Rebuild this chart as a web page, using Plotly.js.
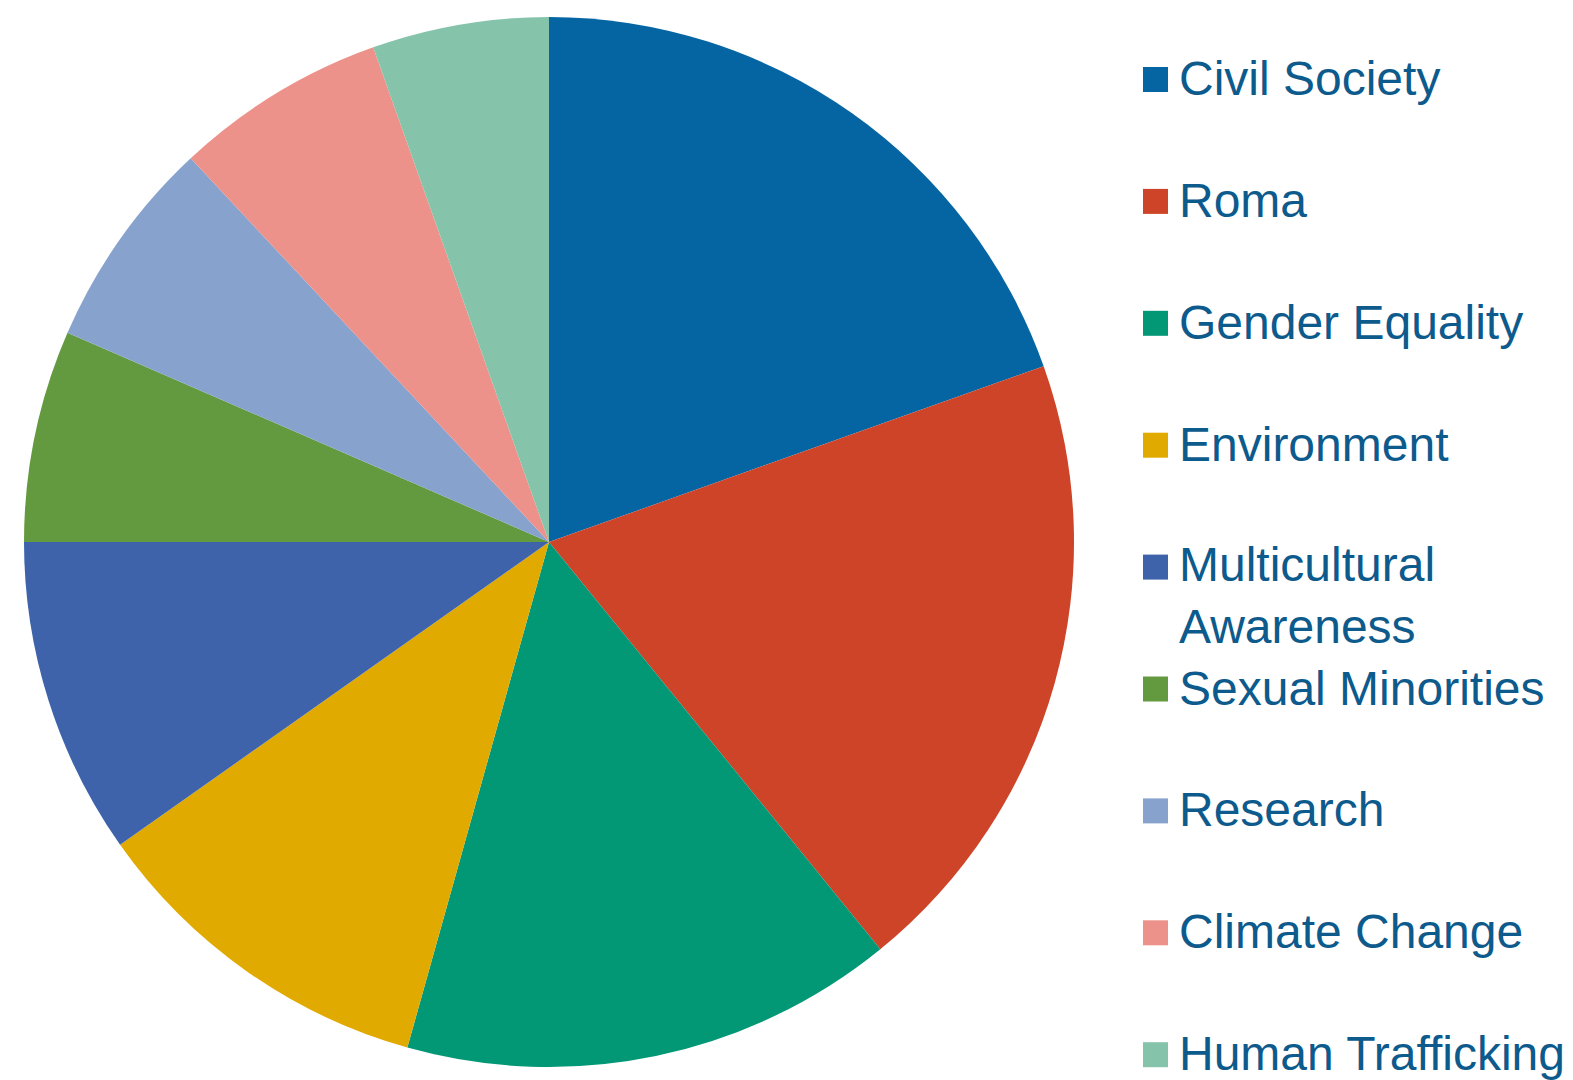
<!DOCTYPE html>
<html>
<head>
<meta charset="utf-8">
<script src="https://cdn.plot.ly/plotly-3.0.1.min.js"></script>
<style>html,body{margin:0;padding:0;background:#fff;}#chart{width:1573px;height:1080px;}</style>
</head>
<body>
<div id="chart"></div>
<script>
const categories = ["Civil Society", "Roma", "Gender Equality", "Environment", "Multicultural<br>Awareness", "Sexual Minorities", "Research", "Climate Change", "Human Trafficking"];
const values = [18, 18, 14, 10, 9, 6, 6, 6, 5];
const colors = ["#0565A3", "#CE4428", "#029775", "#E1AA00", "#3E63AA", "#639A3F", "#87A2CD", "#ED928A", "#85C4AA"];

const W = 1573, H = 1080;
const px = x => x / W;
const py = y => 1 - y / H;

// pie: center (549, 542), radius 525
const cx = 549, cy = 542, r = 525;

const trace = {
  type: "pie",
  labels: categories,
  values: values,
  marker: { colors: colors, line: { width: 0 } },
  sort: false,
  direction: "clockwise",
  rotation: 0,
  textinfo: "none",
  hoverinfo: "label+value+percent",
  domain: { x: [px(cx - r), px(cx + r)], y: [py(cy + r), py(cy - r)] }
};

const shapes = [];
const annotations = [];
const legendTop = 79.5, legendStep = 121.9;
categories.forEach((c, i) => {
  const yc = legendTop + i * legendStep;
  shapes.push({
    type: "rect", xref: "paper", yref: "paper",
    x0: px(1143), x1: px(1168), y0: py(yc - 12.5), y1: py(yc + 12.5),
    fillcolor: colors[i], line: { width: 0 }
  });
  const lines = c.split("<br>").length;
  annotations.push({
    xref: "paper", yref: "paper",
    x: px(1177), y: py(yc + (lines - 1) * 29 - 1),
    xanchor: "left", yanchor: "middle", align: "left",
    text: c, showarrow: false,
    font: { family: "Liberation Sans, Arial, sans-serif", size: 48, color: "#0D5A8C" }
  });
});

const layout = {
  width: W, height: H,
  margin: { l: 0, r: 0, t: 0, b: 0 },
  paper_bgcolor: "#ffffff",
  plot_bgcolor: "#ffffff",
  showlegend: false,
  shapes: shapes,
  annotations: annotations
};

Plotly.newPlot("chart", [trace], layout, { displayModeBar: false, staticPlot: true });
</script>
</body>
</html>
